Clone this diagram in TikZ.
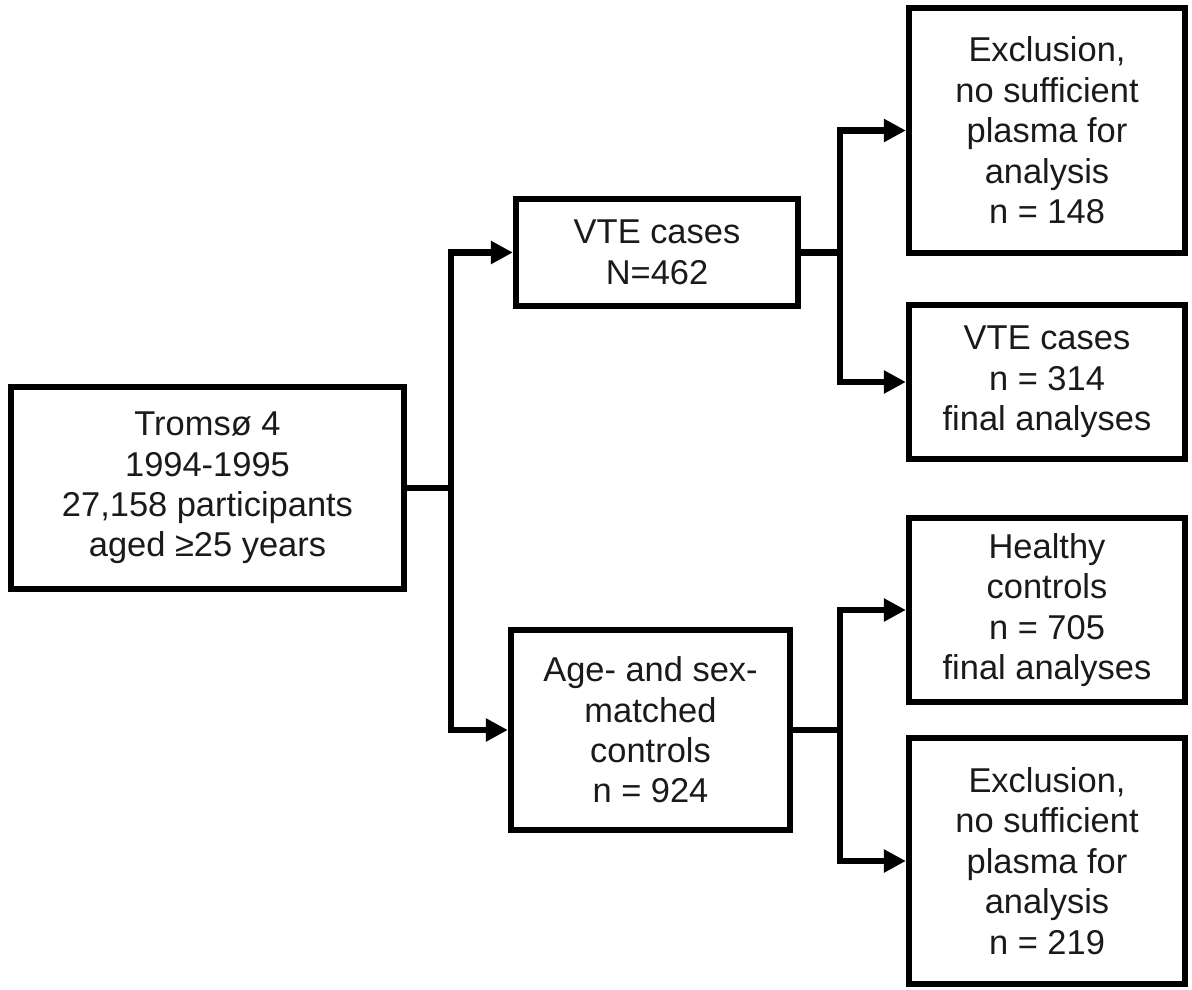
\documentclass[tikz,border=0pt]{standalone}
\usepackage{fontspec}
\setmainfont{Liberation Sans}
\usepackage{tikz}
\usetikzlibrary{arrows.meta,positioning}
\definecolor{FlowInk}{HTML}{000000}
\definecolor{FlowText}{HTML}{1A1A1A}
\tikzset{
  stepbox/.style={draw=FlowInk,line width=3.6pt,fill=white,align=center,
    inner sep=0pt,text=FlowText,font=\fontsize{19.6}{23}\selectfont},
  outbox/.style={stepbox,minimum width=5.52cm},
  flow/.style={-{Triangle[length=4.4mm,width=4.4mm]},line width=3.6pt,draw=FlowInk}
}
\begin{document}
\begin{tikzpicture}[x=1cm,y=1cm]
  \useasboundingbox (0,0) rectangle (23.84,-19.8);

  \node[stepbox,minimum width=7.86cm,minimum height=4.04cm] (tromso) at (4.15,-9.76) {Troms\o{} 4\\1994-1995\\27,158 participants\\aged ≥25 years};

  \node[stepbox,minimum width=5.64cm,minimum height=2.14cm] (vte) at (13.14,-5.05) {VTE cases\\N=462};
  \node[stepbox,minimum width=5.58cm,minimum height=4.0cm] (matched) at (13.01,-14.6) {Age- and sex-\\matched\\controls\\n = 924};

  \node[outbox,minimum height=4.9cm] (excl1) at (20.94,-2.61) {Exclusion,\\no sufficient\\plasma for\\analysis\\n = 148};
  \node[outbox,minimum height=3.08cm] (cases) at (20.94,-7.64) {VTE cases\\n = 314\\final analyses};
  \node[outbox,minimum height=3.68cm] (healthy) at (20.94,-12.2) {Healthy\\controls\\n = 705\\final analyses};
  \node[outbox,minimum height=4.92cm] (excl2) at (20.94,-17.22) {Exclusion,\\no sufficient\\plasma for\\analysis\\n = 219};

  \draw[flow] (tromso.east) -- ++(0.88,0) coordinate (split1) |- (vte.west);
  \draw[flow] (split1) |- (matched.west);

  \draw[flow] (vte.east) -- ++(0.77,0) coordinate (split2) |- (excl1.west);
  \draw[flow] (split2) |- (cases.west);

  \draw[flow] (matched.east) -- ++(0.94,0) coordinate (split3) |- (healthy.west);
  \draw[flow] (split3) |- (excl2.west);
\end{tikzpicture}
\end{document}
